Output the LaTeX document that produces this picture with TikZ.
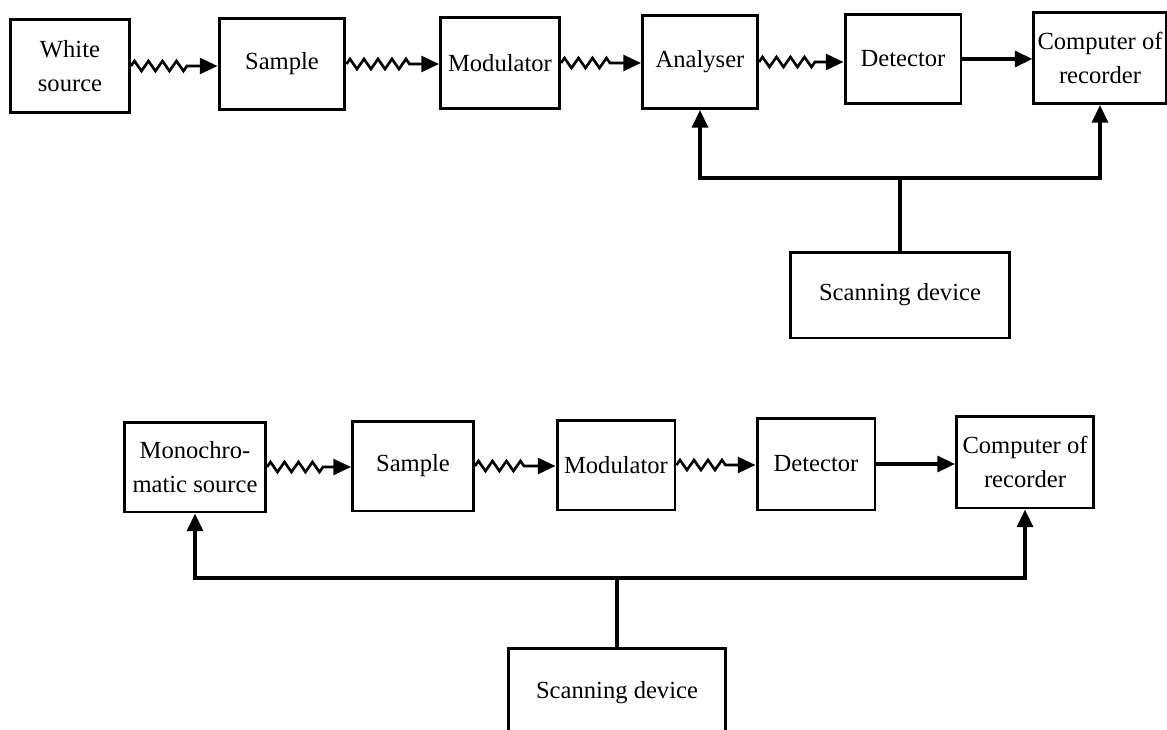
\documentclass[tikz,border=0pt]{standalone}
\usepackage{fontspec}
\setmainfont{Liberation Serif}
\usetikzlibrary{arrows.meta,decorations.pathmorphing}

\tikzset{
  block/.style={draw, line width=1.7pt, align=center, inner sep=2pt,
    font=\fontsize{14}{19}\selectfont},
  wave/.style={->, line width=1.5pt, decorate,
    decoration={zigzag, segment length=0.28cm, amplitude=0.1cm, post length=0.55cm}},
  link/.style={->, line width=1.9pt},
  bus/.style={line width=1.9pt},
}

\begin{document}
\begin{tikzpicture}[x=0.02cm, y=-0.02cm, >={Triangle[length=10pt,width=9pt]}]
    \useasboundingbox (0,0) rectangle (1167,730);

    % upper scheme: white source and analyser
    \node[block, minimum width=2.38cm, minimum height=1.86cm] (white) at (70,66) {White\\source};
    \node[block, minimum width=2.52cm, minimum height=1.84cm] (sampleA) at (282,64) {Sample};
    \node[block, minimum width=2.38cm, minimum height=1.82cm] (modA) at (500,63) {Modulator};
    \node[block, minimum width=2.30cm, minimum height=1.86cm] (analyser) at (700,62) {Analyser};
    \node[block, minimum width=2.32cm, minimum height=1.78cm] (detA) at (903,59) {Detector};
    \node[block, minimum width=2.50cm, minimum height=1.82cm] (compA) at (1100,58) {Computer of\\recorder};
    \node[block, minimum width=4.40cm, minimum height=1.72cm] (scanA) at (900,295) {Scanning device};

    \draw[wave] (white.east) -- (white.east -| sampleA.west);
    \draw[wave] (sampleA.east) -- (sampleA.east -| modA.west);
    \draw[wave] (modA.east) -- (modA.east -| analyser.west);
    \draw[wave] (analyser.east) -- (analyser.east -| detA.west);
    \draw[link] (detA.east) -- (detA.east -| compA.west);

    \coordinate (busA) at (900,178);
    \draw[bus] (scanA.north) -- (busA);
    \draw[link] (busA) -| (analyser.south);
    \draw[link] (busA) -| (compA.south);

    % lower scheme: monochromatic source
    \node[block, minimum width=2.82cm, minimum height=1.80cm] (mono) at (195,467) {Monochro-\\matic source};
    \node[block, minimum width=2.42cm, minimum height=1.80cm] (sampleB) at (413,466) {Sample};
    \node[block, minimum width=2.36cm, minimum height=1.80cm] (modB) at (616,465) {Modulator};
    \node[block, minimum width=2.36cm, minimum height=1.84cm] (detB) at (816,464) {Detector};
    \node[block, minimum width=2.74cm, minimum height=1.84cm] (compB) at (1025,462) {Computer of\\recorder};
    \node[block, minimum width=4.36cm, minimum height=1.80cm] (scanB) at (617,693) {Scanning device};

    \draw[wave] (mono.east) -- (mono.east -| sampleB.west);
    \draw[wave] (sampleB.east) -- (sampleB.east -| modB.west);
    \draw[wave] (modB.east) -- (modB.east -| detB.west);
    \draw[link] (detB.east) -- (detB.east -| compB.west);

    \coordinate (busB) at (617,578);
    \draw[bus] (scanB.north) -- (busB);
    \draw[link] (busB) -| (mono.south);
    \draw[link] (busB) -| (compB.south);
\end{tikzpicture}
\end{document}
